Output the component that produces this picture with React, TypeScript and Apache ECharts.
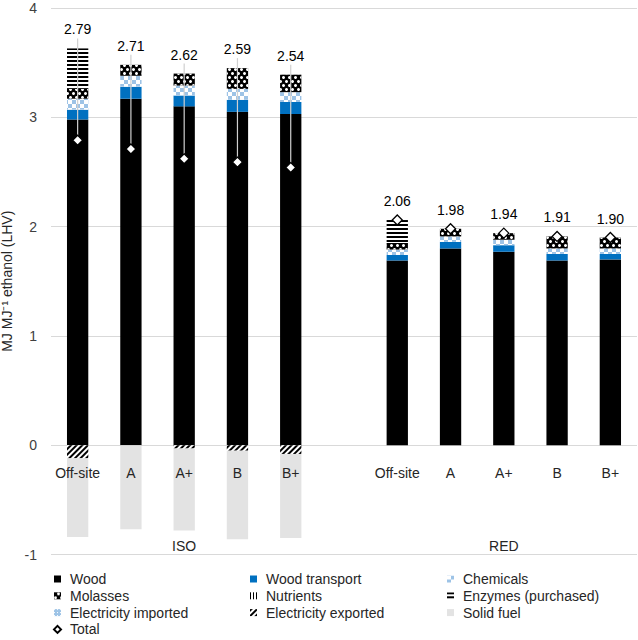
import React, { useEffect, useRef } from "react";
import * as echarts from "echarts";

const categories = ["Off-site", "A", "A+", "B", "B+", "", "Off-site", "A", "A+", "B", "B+"];
const groupLabels = ["", "", "ISO", "", "", "", "", "", "RED", "", ""];
const wood = [2.98, 3.17, 3.1, 3.05, 3.03, "-", 1.69, 1.8, 1.77, 1.69, 1.7];
const woodTransport = [0.09, 0.11, 0.1, 0.11, 0.11, "-", 0.05, 0.06, 0.06, 0.06, 0.05];
const chemicals = [0.1, 0.1, 0.09, 0.1, 0.09, "-", 0.05, 0.05, 0.05, 0.05, 0.05];
const molasses = [0.09, 0.1, 0.11, 0.19, 0.16, "-", 0.06, 0.07, 0.06, 0.11, 0.1];
const nutrients = [0, 0, 0, 0, 0, "-", 0, 0, 0, 0, 0];
const enzymes = [0.37, 0, 0, 0, 0, "-", 0.21, 0, 0, 0, 0];
const electricityImported = [0, 0, 0, 0, 0, "-", 0, 0, 0, 0, 0];
const electricityExported = [-0.12, 0, -0.03, -0.05, -0.08, "-", 0, 0, 0, 0, 0];
const solidFuel = [-0.72, -0.77, -0.75, -0.81, -0.77, "-", 0, 0, 0, 0, 0];
const total = [2.79, 2.71, 2.62, 2.59, 2.54, "-", 2.06, 1.98, 1.94, 1.91, 1.9];

const FONT = '"Liberation Sans", Arial, sans-serif';

export default function App() {
  const ref = useRef<HTMLDivElement>(null);
  useEffect(() => {
    document.body.style.margin = "0";
    if (!ref.current) return;
    const chart = echarts.init(ref.current, null, { renderer: "svg" });

    const positives = [wood, woodTransport, chemicals, molasses, nutrients, enzymes, electricityImported];
    const posTop = categories.map((_, i) =>
      positives.reduce((s, arr) => s + (typeof arr[i] === "number" && (arr[i] as number) > 0 ? (arr[i] as number) : 0), 0)
    );
    const labelData: any[] = [];
    total.forEach((t, i) => {
      if (typeof t === "number") labelData.push([i, t, posTop[i]]);
    });

    const bar = (name: string, data: any[], color: string, decal?: any) => ({
      name,
      type: "bar",
      stack: "s",
      data,
      barWidth: "40%",
      itemStyle: decal ? { color, decal } : { color },
      emphasis: { disabled: true },
    });

    const checker = { symbol: "rect", symbolSize: 1, color: "#9DC3E6", dashArrayX: [[3.5, 3.5], [0, 3.5, 3.5, 0]], dashArrayY: [3.5, 0] };
    const molassesDecal = { symbol: "circle", symbolSize: 1, color: "#ffffff", dashArrayX: [[2.5, 2.5], [0, 2.5, 2.5, 0]], dashArrayY: [2.5, 0.5] };
    const enzymesDecal = { symbol: "rect", symbolSize: 1, color: "#000000", dashArrayX: [1, 0], dashArrayY: [1.6, 2] };
    const nutrientsDecal = { symbol: "rect", symbolSize: 1, color: "#000000", dashArrayX: [1, 2], dashArrayY: [1, 0] };
    const elecImpDecal = { symbol: "rect", symbolSize: 1, color: "#ffffff", dashArrayX: [1, 1.5], dashArrayY: [1, 1.5] };
    const hatch = { symbol: "rect", symbolSize: 1, color: "#000000", dashArrayX: [1, 0], dashArrayY: [1.5, 1.5], rotation: -Math.PI / 4 };

    const legendBase = {
      orient: "vertical",
      top: 572,
      padding: 0,
      itemWidth: 7,
      itemHeight: 7,
      itemGap: 2.8,
      selectedMode: false,
      icon: "rect",
      textStyle: { fontFamily: FONT, fontSize: 14, color: "#262626", lineHeight: 14, padding: [0, 0, 0, 4] },
    };

    const gridBox = { left: 51, right: 1, top: 8, bottom: 85.5, containLabel: false, outerBoundsMode: "none" };

    chart.setOption({
      animation: false,
      textStyle: { fontFamily: FONT },
      grid: [gridBox, { ...gridBox }],
      legend: [
        { ...legendBase, left: 53, data: ["Wood", "Molasses", "Electricity imported", { name: "Total", icon: "diamond" }] },
        { ...legendBase, left: 250, data: ["Wood transport", "Nutrients", "Electricity exported"] },
        { ...legendBase, left: 447, data: ["Chemicals", "Enzymes (purchased)", "Solid fuel"] },
      ],
      xAxis: [
        {
          type: "category",
          gridIndex: 0,
          data: categories,
          position: "bottom",
          axisLine: { onZero: false, show: false },
          axisTick: { show: false },
          axisLabel: { interval: 0, margin: -89, fontSize: 14, color: "#262626", fontFamily: FONT },
          z: 4,
        },
        {
          type: "category",
          gridIndex: 1,
          data: categories,
          position: "bottom",
          axisLine: { show: false, onZero: false },
          axisTick: { show: false },
          axisLabel: {
            interval: 0,
            inside: true,
            margin: 2,
            fontSize: 14,
            color: "#262626",
            fontFamily: FONT,
            formatter: (_v: string, i: number) => groupLabels[i],
          },
          z: 4,
        },
      ],
      yAxis: [
        {
          type: "value",
          gridIndex: 0,
          min: -1,
          max: 4,
          interval: 1,
          name: "MJ MJ\u207B\u00B9 ethanol (LHV)",
          nameLocation: "middle",
          nameGap: 31,
          nameTextStyle: { fontSize: 14, color: "#262626", fontFamily: FONT },
          axisLine: { show: false },
          axisTick: { show: false },
          axisLabel: { fontSize: 14, color: "#404040", margin: 14, fontFamily: FONT },
          splitLine: { lineStyle: { color: "#d9d9d9", width: 1 } },
        },
        {
          type: "value",
          gridIndex: 1,
          min: -1,
          max: 4,
          interval: 1,
          show: false,
          splitLine: { show: false },
        },
      ],
      series: [
        bar("Wood", wood, "#000000"),
        bar("Wood transport", woodTransport, "#0070C0"),
        bar("Chemicals", chemicals, "#ffffff", checker),
        bar("Molasses", molasses, "#000000", molassesDecal),
        bar("Nutrients", nutrients, "#ffffff", nutrientsDecal),
        bar("Enzymes (purchased)", enzymes, "#ffffff", enzymesDecal),
        bar("Electricity imported", electricityImported, "#9DC3E6", elecImpDecal),
        bar("Electricity exported", electricityExported, "#ffffff", hatch),
        bar("Solid fuel", solidFuel, "#E3E3E3"),
        {
          name: "Total labels",
          type: "custom",
          data: labelData,
          encode: { x: 0, y: 1 },
          z: 5,
          silent: true,
          renderItem: (_p: any, api: any) => {
            const idx = api.value(0);
            const t = api.value(1);
            const top = api.value(2);
            const pT = api.coord([idx, t]);
            const pA = api.coord([idx, top]);
            const ly = Math.min(pA[1], pT[1]) - 19;
            const children: any[] = [];
            if (pT[1] - ly > 25) {
              children.push({
                type: "line",
                shape: { x1: pT[0], y1: ly + 9, x2: pT[0], y2: pT[1] },
                style: { stroke: "#d0d0d0", lineWidth: 1.2 },
              });
            }
            children.push({
              type: "text",
              x: pT[0],
              y: ly,
              style: {
                text: t.toFixed(2),
                fontSize: 14,
                fontFamily: FONT,
                fill: "#000000",
                align: "center",
                verticalAlign: "middle",
              },
            });
            return { type: "group", children };
          },
        },
        {
          name: "Total",
          type: "scatter",
          data: total,
          symbol: "diamond",
          symbolSize: [10, 10],
          z: 6,
          itemStyle: { color: "#ffffff", borderColor: "#000000", borderWidth: 1.3, opacity: 1 },
          emphasis: { disabled: true },
        },
      ],
    });
    return () => chart.dispose();
  }, []);
  return <div ref={ref} style={{ width: 638, height: 640 }} />;
}
